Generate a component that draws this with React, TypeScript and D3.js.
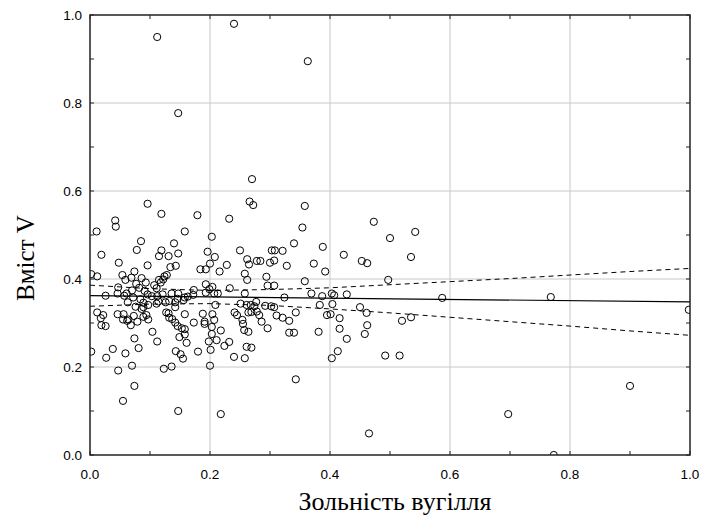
import React from 'react';
import * as d3 from 'd3';

// Зольність вугілля (x) та вміст V (y)
const ash = [
  0.011, 0.043, 0.158, 0.354, 0.085, 0.078, 0.140, 0.203, 0.340, 0.388,
  0.019, 0.119, 0.115, 0.131, 0.147, 0.196, 0.208, 0.250, 0.303, 0.308,
  0.321, 0.048, 0.096, 0.200, 0.228, 0.262, 0.265, 0.278, 0.284, 0.300,
  0.307, 0.328, 0.373, 0.134, 0.143, 0.184, 0.193, 0.216, 0.392, 0.002,
  0.012, 0.074, 0.054, 0.069, 0.086, 0.059, 0.124, 0.128, 0.122, 0.115,
  0.258, 0.262, 0.294, 0.358, 0.077, 0.093, 0.107, 0.111, 0.118, 0.047,
  0.046, 0.061, 0.057, 0.070, 0.082, 0.091, 0.096, 0.103, 0.112, 0.121,
  0.136, 0.147, 0.158, 0.163, 0.173, 0.172, 0.193, 0.193, 0.199, 0.204,
  0.207, 0.213, 0.233, 0.258, 0.296, 0.307, 0.324, 0.369, 0.387, 0.403,
  0.407, 0.026, 0.072, 0.063, 0.084, 0.089, 0.089, 0.076, 0.086, 0.097,
  0.111, 0.114, 0.126, 0.132, 0.142, 0.142, 0.146, 0.156, 0.209, 0.251,
  0.261, 0.268, 0.277, 0.274, 0.292, 0.302, 0.307, 0.383, 0.404, 0.012,
  0.022, 0.018, 0.046, 0.056, 0.055, 0.064, 0.073, 0.079, 0.089, 0.097,
  0.094, 0.127, 0.131, 0.137, 0.158, 0.132, 0.188, 0.191, 0.204, 0.207,
  0.241, 0.245, 0.254, 0.264, 0.269, 0.278, 0.282, 0.286, 0.311, 0.321,
  0.332, 0.343, 0.401, 0.395, 0.019, 0.026, 0.068, 0.062, 0.142, 0.146,
  0.153, 0.158, 0.173, 0.191, 0.203, 0.218, 0.255, 0.257, 0.264, 0.296,
  0.332, 0.340, 0.381, 0.074, 0.104, 0.112, 0.149, 0.161, 0.158, 0.203,
  0.198, 0.211, 0.232, 0.224, 0.261, 0.269, 0.180, 0.201, 0.240, 0.258,
  0.200, 0.343, 0.002, 0.027, 0.038, 0.059, 0.081, 0.143, 0.151, 0.155,
  0.047, 0.070, 0.123, 0.136, 0.074, 0.055, 0.147, 0.218, 0.465, 0.423,
  0.453, 0.462, 0.535, 0.497, 0.500, 0.542, 0.473, 0.428, 0.450, 0.461,
  0.416, 0.520, 0.535, 0.462, 0.416, 0.458, 0.428, 0.413, 0.403, 0.492,
  0.516, 0.587, 0.768, 0.998, 0.900, 0.697, 0.773, 0.112, 0.240, 0.363,
  0.147, 0.096, 0.119, 0.042, 0.179, 0.232, 0.270, 0.266, 0.272, 0.358,
];

const vanadium = [
  0.508, 0.519, 0.508, 0.517, 0.486, 0.466, 0.481, 0.496, 0.481, 0.473,
  0.455, 0.465, 0.452, 0.452, 0.458, 0.462, 0.450, 0.465, 0.465, 0.465,
  0.464, 0.437, 0.431, 0.435, 0.432, 0.445, 0.433, 0.441, 0.441, 0.437,
  0.442, 0.430, 0.435, 0.427, 0.430, 0.422, 0.422, 0.417, 0.417, 0.411,
  0.406, 0.417, 0.409, 0.403, 0.402, 0.398, 0.406, 0.409, 0.399, 0.398,
  0.412, 0.398, 0.405, 0.395, 0.389, 0.392, 0.386, 0.379, 0.392, 0.381,
  0.367, 0.367, 0.362, 0.374, 0.380, 0.373, 0.365, 0.361, 0.361, 0.365,
  0.367, 0.367, 0.358, 0.360, 0.375, 0.364, 0.388, 0.369, 0.377, 0.382,
  0.367, 0.367, 0.379, 0.367, 0.385, 0.385, 0.358, 0.367, 0.361, 0.367,
  0.363, 0.362, 0.358, 0.347, 0.354, 0.346, 0.336, 0.337, 0.332, 0.341,
  0.344, 0.349, 0.347, 0.350, 0.347, 0.336, 0.355, 0.352, 0.341, 0.344,
  0.341, 0.341, 0.348, 0.338, 0.339, 0.338, 0.336, 0.341, 0.343, 0.324,
  0.318, 0.311, 0.320, 0.320, 0.308, 0.308, 0.316, 0.303, 0.314, 0.308,
  0.318, 0.324, 0.322, 0.309, 0.320, 0.312, 0.321, 0.303, 0.320, 0.307,
  0.324, 0.318, 0.307, 0.324, 0.325, 0.326, 0.318, 0.303, 0.317, 0.312,
  0.305, 0.324, 0.320, 0.318, 0.295, 0.293, 0.295, 0.305, 0.301, 0.293,
  0.288, 0.286, 0.301, 0.298, 0.291, 0.283, 0.298, 0.284, 0.280, 0.288,
  0.278, 0.278, 0.280, 0.265, 0.280, 0.258, 0.268, 0.255, 0.274, 0.275,
  0.258, 0.261, 0.257, 0.248, 0.246, 0.244, 0.235, 0.239, 0.223, 0.220,
  0.203, 0.172, 0.235, 0.221, 0.241, 0.231, 0.243, 0.236, 0.229, 0.219,
  0.192, 0.203, 0.196, 0.201, 0.157, 0.123, 0.100, 0.093, 0.049, 0.455,
  0.441, 0.436, 0.450, 0.398, 0.493, 0.507, 0.530, 0.365, 0.336, 0.323,
  0.311, 0.305, 0.313, 0.295, 0.287, 0.275, 0.264, 0.236, 0.220, 0.226,
  0.226, 0.357, 0.359, 0.330, 0.157, 0.093, 0.000, 0.950, 0.980, 0.895,
  0.777, 0.571, 0.548, 0.533, 0.545, 0.537, 0.627, 0.576, 0.568, 0.566,
];

// лінія регресії та довірчий інтервал
const fitX = [0, 1];
const fitY = [0.362, 0.348];
const bandX = [0, 0.1, 0.2, 0.3, 0.4, 0.5, 0.6, 0.7, 0.8, 0.9, 1.0];
const upperBand = [0.386, 0.378, 0.374, 0.376, 0.380, 0.387, 0.394, 0.401, 0.409, 0.417, 0.424];
const lowerBand = [0.338, 0.343, 0.344, 0.340, 0.332, 0.323, 0.313, 0.303, 0.293, 0.282, 0.272];

const majorTicks = [0, 0.2, 0.4, 0.6, 0.8, 1.0];
const minorTicks = [0, 0.1, 0.2, 0.3, 0.4, 0.5, 0.6, 0.7, 0.8, 0.9, 1.0];

const W = 702;
const H = 527;
const margin = { top: 15, right: 12, bottom: 72, left: 90 };
const innerW = W - margin.left - margin.right;
const innerH = H - margin.top - margin.bottom;

const x = d3.scaleLinear().domain([0, 1]).range([0, innerW]);
const y = d3.scaleLinear().domain([0, 1]).range([innerH, 0]);
const fmt = d3.format('.1f');

const serif = 'Liberation Serif, Times New Roman, serif';
const sans = 'Liberation Sans, Arial, sans-serif';

export default function App() {
  const line = d3.line<number>().x((d, i) => x(bandX[i])).y(d => y(d));
  const fitLine = d3.line<number>().x((d, i) => x(fitX[i])).y(d => y(d));
  const tickLen = 4;

  return (
    <svg width={W} height={H} style={{ position: 'absolute', left: 0, top: 0, background: '#fff' }}>
      <defs>
        <clipPath id="plot-clip">
          <rect x={0} y={0} width={innerW} height={innerH} />
        </clipPath>
      </defs>
      <g transform={`translate(${margin.left},${margin.top})`}>
        {/* сітка */}
        {majorTicks.slice(1, -1).map(t => (
          <line key={'gx' + t} x1={x(t)} x2={x(t)} y1={0} y2={innerH} stroke="#c8c8c8" strokeWidth={1} />
        ))}
        {majorTicks.slice(1, -1).map(t => (
          <line key={'gy' + t} x1={0} x2={innerW} y1={y(t)} y2={y(t)} stroke="#c8c8c8" strokeWidth={1} />
        ))}

        <g clipPath="url(#plot-clip)">
          <path d={line(upperBand) || ''} fill="none" stroke="#000" strokeWidth={1} strokeDasharray="5,4" />
          <path d={line(lowerBand) || ''} fill="none" stroke="#000" strokeWidth={1} strokeDasharray="5,4" />
          <path d={fitLine(fitY) || ''} fill="none" stroke="#000" strokeWidth={1.2} />
          {ash.map((a, i) => (
            <circle key={i} cx={x(a)} cy={y(vanadium[i])} r={3.6} fill="none" stroke="#000" strokeWidth={1} />
          ))}
        </g>

        {/* рамка та штрихи всередину */}
        <rect x={0} y={0} width={innerW} height={innerH} fill="none" stroke="#222" strokeWidth={1.5} />
        {minorTicks.map(t => (
          <g key={'t' + t} stroke="#222" strokeWidth={1}>
            <line x1={x(t)} x2={x(t)} y1={innerH} y2={innerH - tickLen} />
            <line x1={x(t)} x2={x(t)} y1={0} y2={tickLen} />
            <line x1={0} x2={tickLen} y1={y(t)} y2={y(t)} />
            <line x1={innerW} x2={innerW - tickLen} y1={y(t)} y2={y(t)} />
          </g>
        ))}

        {majorTicks.map(t => (
          <text key={'lx' + t} x={x(t)} y={innerH + 24} textAnchor="middle"
            fontFamily={sans} fontSize={13.5} fill="#000">
            {fmt(t)}
          </text>
        ))}
        {majorTicks.map(t => (
          <text key={'ly' + t} x={-8} y={y(t)} dy="0.35em" textAnchor="end"
            fontFamily={sans} fontSize={13.5} fill="#000">
            {fmt(t)}
          </text>
        ))}

        <text x={305} y={innerH + 55} textAnchor="middle"
          fontFamily={serif} fontSize={26} fill="#000">
          Зольність вугілля
        </text>
        <text transform={`translate(${-56},${243}) rotate(-90)`} textAnchor="middle"
          fontFamily={serif} fontSize={25} fill="#000">
          Вміст V
        </text>
      </g>
    </svg>
  );
}
